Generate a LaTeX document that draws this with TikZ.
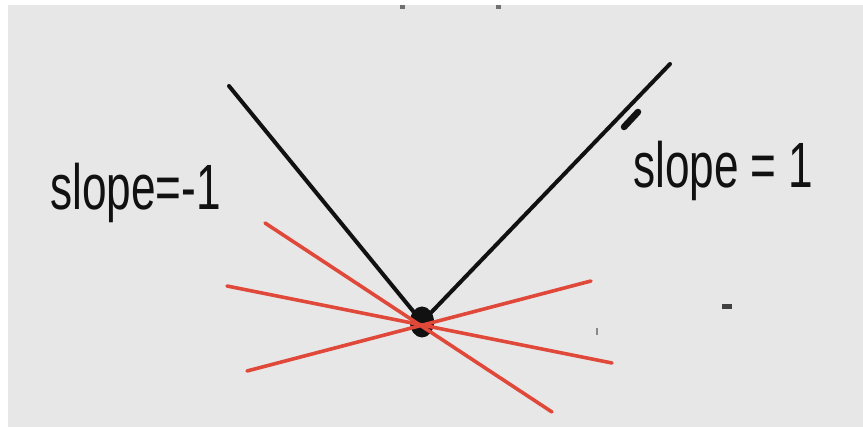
\documentclass[tikz,border=0pt]{standalone}
\usepackage{fontspec}
\usetikzlibrary{shapes.geometric}
\setmainfont{Liberation Sans}
\definecolor{bggray}{HTML}{E8E7E8}
\definecolor{penred}{HTML}{E0493A}
\definecolor{penblack}{HTML}{111111}
\tikzset{
  blackline/.style={draw=penblack, line width=4pt, line cap=round},
  redline/.style={draw=penred, line width=3.6pt, line cap=round},
  handtext/.style={font=\fontsize{64}{64}\selectfont, text=penblack, inner sep=0pt, anchor=base west, xscale=0.69},
  speck/.style={fill=penblack!80, draw=none}
}
\begin{document}
\begin{tikzpicture}[x=1pt,y=-1pt]
\useasboundingbox (0,0) rectangle (863,427);
\fill[white] (0,0) rectangle (863,427);
\fill[bggray] (8,5) rectangle (863,427);
% cut-off fragments at the top edge
\fill[penblack!60] (400,5) rectangle (405,9);
\fill[penblack!60] (496,5) rectangle (501,9);

% red lines through the point
\coordinate (r1a) at (265,223); \coordinate (r1b) at (552,412);
\coordinate (r2a) at (227,286); \coordinate (r2b) at (612,363);
\coordinate (r3a) at (247,371); \coordinate (r3b) at (591,281);

% black lines
\coordinate (lt) at (229,86);
\coordinate (rt) at (670,64);
\node[ellipse, fill=penblack, minimum width=24pt, minimum height=31pt, inner sep=0pt] (v) at (422,322) {};
\draw[blackline] (lt) -- (v.center);
\draw[blackline] (rt) -- (v.center);
\draw[blackline, line width=6.5pt] (638,112) -- (624,127);

\draw[redline] (r1a) -- (r1b);
\draw[redline] (r2a) -- (r2b);
\draw[redline] (r3a) -- (r3b);

% labels
\node[handtext] (sl) at (50,210) {slope=-1};
\node[handtext] (sr) at (633,188) {slope = 1};

% small marks
\fill[speck] (722,304) rectangle (732,309);
\fill[penblack!50] (596,328) rectangle (598,335);
\end{tikzpicture}
\end{document}
